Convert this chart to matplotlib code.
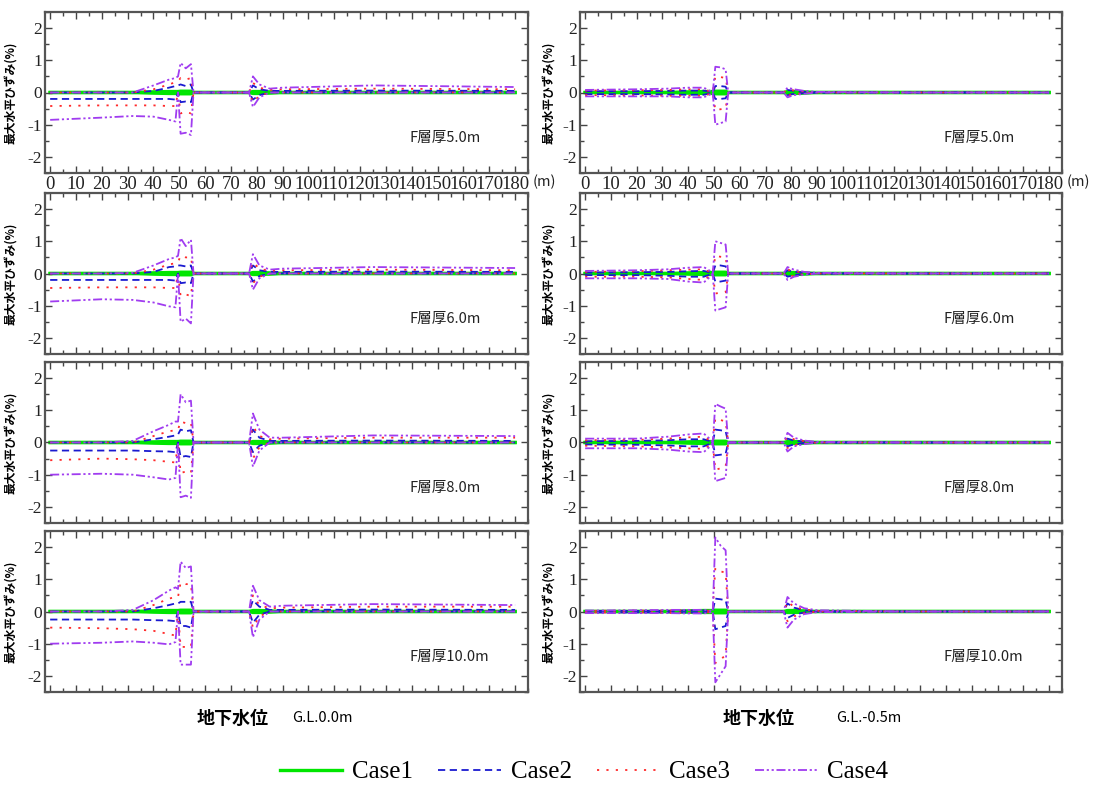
import matplotlib
matplotlib.use('Agg')
import matplotlib.pyplot as plt
from matplotlib.ticker import MultipleLocator

# distance along the section (m), knot positions shared by all curves
dist = [0, 20, 32, 40, 46, 48.5, 49.5, 50.5, 52.5, 54.5, 55.5, 77, 78.5, 81, 85, 90, 125, 180]

layers = ['F層厚5.0m', 'F層厚6.0m', 'F層厚8.0m', 'F層厚10.0m']
water = ['G.L.0.0m', 'G.L.-0.5m']
cases = ['Case1', 'Case2', 'Case3', 'Case4']

# Case1 is practically zero everywhere
case1_hi = [0, 0, 0, 0.02, 0.03, 0.03, 0.03, 0.04, 0.04, 0.04, 0, 0, 0.03, 0.03, 0.02, 0, 0, 0]
case1_lo = [0, 0, 0, -0.02, -0.03, -0.03, -0.03, -0.04, -0.04, -0.04, 0, 0, -0.03, -0.03, -0.02, 0, 0, 0]

# G.L.0.0m  (max / min horizontal strain %)
gl0_f5_c2_hi = [0, 0, 0, 0.05, 0.15, 0.2, 0.22, 0.25, 0.2, 0.25, 0, 0, 0.22, 0.1, 0.05, 0.05, 0.06, 0.05]
gl0_f5_c2_lo = [-0.2, -0.2, -0.2, -0.2, -0.2, -0.22, 0, -0.3, -0.28, -0.3, 0, 0, -0.22, -0.08, 0, 0, 0, 0]
gl0_f5_c3_hi = [0, 0, 0, 0.1, 0.25, 0.32, 0.35, 0.45, 0.4, 0.45, 0, 0, 0.3, 0.15, 0.08, 0.1, 0.12, 0.1]
gl0_f5_c3_lo = [-0.42, -0.4, -0.4, -0.4, -0.42, -0.42, 0, -0.65, -0.6, -0.65, 0, 0, -0.3, -0.1, 0, 0, 0, 0]
gl0_f5_c4_hi = [0, 0, 0, 0.22, 0.4, 0.45, 0.5, 0.92, 0.75, 0.88, 0, 0, 0.5, 0.25, 0.12, 0.15, 0.22, 0.17]
gl0_f5_c4_lo = [-0.85, -0.78, -0.73, -0.75, -0.85, -0.9, 0, -1.28, -1.25, -1.32, 0, 0, -0.45, -0.15, 0, 0, 0, 0]

gl0_f6_c2_hi = [0, 0, 0, 0.05, 0.2, 0.22, 0.25, 0.25, 0.22, 0.25, 0, 0, 0.25, 0.1, 0.05, 0.05, 0.06, 0.05]
gl0_f6_c2_lo = [-0.2, -0.2, -0.2, -0.2, -0.2, -0.22, 0, -0.3, -0.28, -0.3, 0, 0, -0.25, -0.08, 0, 0, 0, 0]
gl0_f6_c3_hi = [0, 0, 0, 0.12, 0.28, 0.32, 0.35, 0.55, 0.5, 0.5, 0, 0, 0.35, 0.15, 0.08, 0.1, 0.12, 0.1]
gl0_f6_c3_lo = [-0.45, -0.43, -0.43, -0.43, -0.45, -0.45, 0, -0.7, -0.65, -0.7, 0, 0, -0.3, -0.1, 0, 0, 0, 0]
gl0_f6_c4_hi = [0, 0, 0.02, 0.25, 0.45, 0.5, 0.55, 1.1, 0.85, 1.05, 0, 0, 0.6, 0.25, 0.12, 0.15, 0.2, 0.17]
gl0_f6_c4_lo = [-0.87, -0.8, -0.82, -0.9, -1.02, -1.05, 0, -1.5, -1.4, -1.55, 0, 0, -0.5, -0.15, 0, 0, 0, 0]

gl0_f8_c2_hi = [0, 0, 0, 0.1, 0.18, 0.22, 0.25, 0.4, 0.35, 0.38, 0, 0, 0.4, 0.15, 0.05, 0.05, 0.06, 0.05]
gl0_f8_c2_lo = [-0.25, -0.25, -0.25, -0.27, -0.28, -0.3, 0, -0.45, -0.42, -0.45, 0, 0, -0.3, -0.1, 0, 0, 0, 0]
gl0_f8_c3_hi = [0, 0, 0, 0.2, 0.35, 0.38, 0.4, 0.65, 0.6, 0.62, 0, 0, 0.5, 0.2, 0.1, 0.12, 0.15, 0.15]
gl0_f8_c3_lo = [-0.55, -0.5, -0.52, -0.55, -0.6, -0.62, 0, -0.95, -0.9, -0.95, 0, 0, -0.5, -0.15, 0, 0, 0, 0]
gl0_f8_c4_hi = [0, 0, 0.05, 0.35, 0.55, 0.65, 0.65, 1.5, 1.25, 1.3, 0, 0, 0.9, 0.4, 0.15, 0.15, 0.22, 0.2]
gl0_f8_c4_lo = [-1.0, -0.97, -1.0, -1.08, -1.15, -1.1, 0, -1.7, -1.65, -1.72, 0, 0, -0.75, -0.25, 0, 0, 0, 0]

gl0_f10_c2_hi = [0, 0, 0, 0.1, 0.2, 0.25, 0.25, 0.3, 0.3, 0.3, 0, 0, 0.35, 0.15, 0.05, 0.05, 0.06, 0.05]
gl0_f10_c2_lo = [-0.25, -0.25, -0.25, -0.27, -0.28, -0.3, 0, -0.45, -0.45, -0.5, 0, 0, -0.35, -0.1, 0, 0, 0, 0]
gl0_f10_c3_hi = [0, 0, 0, 0.2, 0.4, 0.45, 0.45, 0.9, 0.85, 0.85, 0, 0, 0.5, 0.2, 0.1, 0.12, 0.15, 0.15]
gl0_f10_c3_lo = [-0.5, -0.52, -0.55, -0.6, -0.7, -0.75, 0, -1.1, -1.1, -1.1, 0, 0, -0.5, -0.15, 0, 0, 0, 0]
gl0_f10_c4_hi = [0, 0, 0.05, 0.35, 0.65, 0.75, 0.7, 1.55, 1.35, 1.4, 0, 0, 0.8, 0.35, 0.15, 0.18, 0.23, 0.2]
gl0_f10_c4_lo = [-1.0, -0.97, -0.93, -0.97, -1.02, -0.95, 0, -1.65, -1.65, -1.65, 0, 0, -0.8, -0.25, 0, 0, 0, 0]

# G.L.-0.5m
gl05_f5_c2_hi = [0.04, 0.04, 0.05, 0.06, 0.06, 0.02, 0, 0.2, 0.2, 0.18, 0, 0, 0.08, 0.05, 0.02, 0, 0, 0]
gl05_f5_c2_lo = [-0.05, -0.05, -0.06, -0.07, -0.07, -0.02, 0, -0.2, -0.2, -0.18, 0, 0, -0.08, -0.04, -0.02, 0, 0, 0]
gl05_f5_c3_hi = [0.06, 0.07, 0.08, 0.1, 0.1, 0.03, 0, 0.5, 0.48, 0.45, 0, 0, 0.1, 0.06, 0.03, 0, 0, 0]
gl05_f5_c3_lo = [-0.08, -0.09, -0.1, -0.1, -0.1, -0.04, 0, -0.55, -0.52, -0.5, 0, 0, -0.1, -0.05, -0.02, 0, 0, 0]
gl05_f5_c4_hi = [0.08, 0.1, 0.12, 0.15, 0.15, 0.05, 0, 0.8, 0.78, 0.72, 0, 0, 0.15, 0.1, 0.05, 0.02, 0, 0]
gl05_f5_c4_lo = [-0.12, -0.12, -0.12, -0.15, -0.15, -0.06, 0, -1.0, -0.95, -0.9, 0, 0, -0.15, -0.08, -0.04, 0, 0, 0]

gl05_f6_c2_hi = [0.03, 0.04, 0.05, 0.07, 0.08, 0.03, 0, 0.25, 0.25, 0.22, 0, 0, 0.1, 0.05, 0.02, 0, 0, 0]
gl05_f6_c2_lo = [-0.05, -0.05, -0.07, -0.1, -0.1, -0.03, 0, -0.25, -0.25, -0.22, 0, 0, -0.1, -0.05, -0.02, 0, 0, 0]
gl05_f6_c3_hi = [0.05, 0.07, 0.1, 0.12, 0.13, 0.05, 0, 0.55, 0.52, 0.5, 0, 0, 0.12, 0.07, 0.03, 0, 0, 0]
gl05_f6_c3_lo = [-0.1, -0.1, -0.12, -0.17, -0.2, -0.07, 0, -0.62, -0.6, -0.58, 0, 0, -0.12, -0.06, -0.02, 0, 0, 0]
gl05_f6_c4_hi = [0.08, 0.1, 0.13, 0.18, 0.2, 0.08, 0, 1.0, 0.95, 0.9, 0, 0, 0.2, 0.12, 0.05, 0.02, 0, 0]
gl05_f6_c4_lo = [-0.15, -0.15, -0.17, -0.25, -0.28, -0.1, 0, -1.15, -1.1, -1.05, 0, 0, -0.2, -0.1, -0.04, 0, 0, 0]

gl05_f8_c2_hi = [0.04, 0.05, 0.07, 0.1, 0.1, 0.04, 0, 0.4, 0.38, 0.35, 0, 0, 0.12, 0.06, 0.02, 0, 0, 0]
gl05_f8_c2_lo = [-0.06, -0.07, -0.09, -0.12, -0.12, -0.04, 0, -0.4, -0.38, -0.35, 0, 0, -0.12, -0.06, -0.02, 0, 0, 0]
gl05_f8_c3_hi = [0.07, 0.08, 0.12, 0.16, 0.18, 0.06, 0, 0.75, 0.7, 0.65, 0, 0, 0.18, 0.1, 0.04, 0, 0, 0]
gl05_f8_c3_lo = [-0.1, -0.12, -0.15, -0.18, -0.2, -0.08, 0, -0.85, -0.8, -0.75, 0, 0, -0.17, -0.08, -0.03, 0, 0, 0]
gl05_f8_c4_hi = [0.12, 0.12, 0.18, 0.25, 0.28, 0.1, 0, 1.2, 1.12, 1.05, 0, 0, 0.3, 0.15, 0.06, 0.02, 0, 0]
gl05_f8_c4_lo = [-0.18, -0.18, -0.22, -0.28, -0.3, -0.12, 0, -1.2, -1.15, -1.1, 0, 0, -0.28, -0.12, -0.05, 0, 0, 0]

gl05_f10_c2_hi = [0.02, 0.02, 0.02, 0.03, 0.03, 0.01, 0, 0.4, 0.38, 0.35, 0, 0, 0.25, 0.12, 0.04, 0, 0, 0]
gl05_f10_c2_lo = [-0.03, -0.03, -0.03, -0.03, -0.03, -0.01, 0, -0.55, -0.5, -0.45, 0, 0, -0.2, -0.1, -0.03, 0, 0, 0]
gl05_f10_c3_hi = [0.02, 0.03, 0.03, 0.04, 0.04, 0.02, 0, 1.35, 1.25, 1.2, 0, 0, 0.3, 0.15, 0.06, 0.02, 0, 0]
gl05_f10_c3_lo = [-0.03, -0.03, -0.04, -0.04, -0.04, -0.02, 0, -1.6, -1.5, -1.35, 0, 0, -0.3, -0.15, -0.05, 0, 0, 0]
gl05_f10_c4_hi = [0.03, 0.04, 0.05, 0.05, 0.05, 0.03, 0, 2.3, 2.05, 1.9, 0, 0, 0.45, 0.25, 0.1, 0.04, 0, 0]
gl05_f10_c4_lo = [-0.05, -0.05, -0.05, -0.06, -0.06, -0.03, 0, -2.2, -1.95, -1.7, 0, 0, -0.5, -0.25, -0.08, -0.02, 0, 0]

panels = [
    [(gl0_f5_c2_hi, gl0_f5_c2_lo, gl0_f5_c3_hi, gl0_f5_c3_lo, gl0_f5_c4_hi, gl0_f5_c4_lo),
     (gl05_f5_c2_hi, gl05_f5_c2_lo, gl05_f5_c3_hi, gl05_f5_c3_lo, gl05_f5_c4_hi, gl05_f5_c4_lo)],
    [(gl0_f6_c2_hi, gl0_f6_c2_lo, gl0_f6_c3_hi, gl0_f6_c3_lo, gl0_f6_c4_hi, gl0_f6_c4_lo),
     (gl05_f6_c2_hi, gl05_f6_c2_lo, gl05_f6_c3_hi, gl05_f6_c3_lo, gl05_f6_c4_hi, gl05_f6_c4_lo)],
    [(gl0_f8_c2_hi, gl0_f8_c2_lo, gl0_f8_c3_hi, gl0_f8_c3_lo, gl0_f8_c4_hi, gl0_f8_c4_lo),
     (gl05_f8_c2_hi, gl05_f8_c2_lo, gl05_f8_c3_hi, gl05_f8_c3_lo, gl05_f8_c4_hi, gl05_f8_c4_lo)],
    [(gl0_f10_c2_hi, gl0_f10_c2_lo, gl0_f10_c3_hi, gl0_f10_c3_lo, gl0_f10_c4_hi, gl0_f10_c4_lo),
     (gl05_f10_c2_hi, gl05_f10_c2_lo, gl05_f10_c3_hi, gl05_f10_c3_lo, gl05_f10_c4_hi, gl05_f10_c4_lo)],
]

cjk = ['Noto Sans CJK JP', 'DejaVu Sans']
serif = 'Liberation Serif'
W, H = 1100, 785

col_x = [(45, 528), (580, 1062)]
row_y = [(12, 173), (193, 354), (362, 523), (531, 692)]

styles = [
    dict(color='#00e600', lw=2.4, ls='-'),
    dict(color='#1a1ad0', lw=1.3, dashes=(4, 2.5)),
    dict(color='#ff2a2a', lw=1.3, dashes=(1.2, 4)),
    dict(color='#a03cf0', lw=1.3, dashes=(5, 1.5, 1.2, 1.5, 1.2, 1.5)),
]

fig = plt.figure(figsize=(W / 100, H / 100), dpi=100)
handles = []

for r in range(4):
    for c in range(2):
        x0, x1 = col_x[c]
        t, b = row_y[r]
        ax = fig.add_axes([x0 / W, 1 - b / H, (x1 - x0) / W, (b - t) / H])
        hi2, lo2, hi3, lo3, hi4, lo4 = panels[r][c]
        series = [(case1_hi, case1_lo), (hi2, lo2), (hi3, lo3), (hi4, lo4)]
        for i, (hi, lo) in enumerate(series):
            st = styles[i]
            z = 1 if i == 0 else 2 + i
            ln, = ax.plot(dist, hi, zorder=z, **st)
            ax.plot(dist, lo, zorder=z, **st)
            if r == 0 and c == 0:
                ln.set_label(cases[i])
                handles.append(ln)

        ax.set_xlim(-2, 185)
        ax.set_ylim(-2.5, 2.5)
        ax.xaxis.set_minor_locator(MultipleLocator(5))
        ax.yaxis.set_minor_locator(MultipleLocator(0.5))
        ax.tick_params(which='both', direction='in', top=True, right=True, colors='#444444',
                       labelcolor='#222222', pad=2)
        ax.tick_params(which='major', length=5, width=1)
        ax.tick_params(which='minor', length=3, width=1)
        ax.set_yticks([-2, -1, 0, 1, 2])
        ax.set_yticklabels(['-2', '-1', '0', '1', '2'], fontfamily=serif, fontsize=12.5)
        ax.set_xticks(range(0, 181, 10))
        if r == 0:
            ax.set_xticklabels([str(v) for v in range(0, 181, 10)], fontfamily=serif, fontsize=13.5)
        else:
            ax.tick_params(axis='x', labelbottom=False)
        for sp in ax.spines.values():
            sp.set_color('#555555')
            sp.set_linewidth(1.6)

        ax.set_ylabel('最大水平ひずみ(%)', family=cjk, fontsize=8.5, fontweight='bold', labelpad=0)
        ax.yaxis.set_label_coords(-0.056 if c == 0 else -0.05, 0.5)
        ax.text(0.755, 0.19, layers[r], transform=ax.transAxes, family=cjk, fontsize=10.5,
                color='#222222')

# units after the top row of tick labels
fig.text(533 / W, 1 - 182 / H, '(m)', fontsize=10.5, family=cjk, va='center', color='#222222')
fig.text(1067 / W, 1 - 182 / H, '(m)', fontsize=10.5, family=cjk, va='center', color='#222222')

# groundwater level titles
fig.text(197 / W, 1 - 718 / H, '地下水位', family=cjk, fontsize=13, fontweight='bold', va='center')
fig.text(292 / W, 1 - 718 / H, water[0], family=cjk, fontsize=10.5, va='center')
fig.text(723 / W, 1 - 718 / H, '地下水位', family=cjk, fontsize=13, fontweight='bold', va='center')
fig.text(836 / W, 1 - 718 / H, water[1], family=cjk, fontsize=10.5, va='center')

fig.legend(handles=handles, loc='center', bbox_to_anchor=(584 / W, 1 - 772 / H), ncol=4,
           frameon=False, prop={'family': serif, 'size': 18}, handlelength=2.5,
           handletextpad=0.4, columnspacing=1.0)

fig.savefig('out.png', dpi=100)
